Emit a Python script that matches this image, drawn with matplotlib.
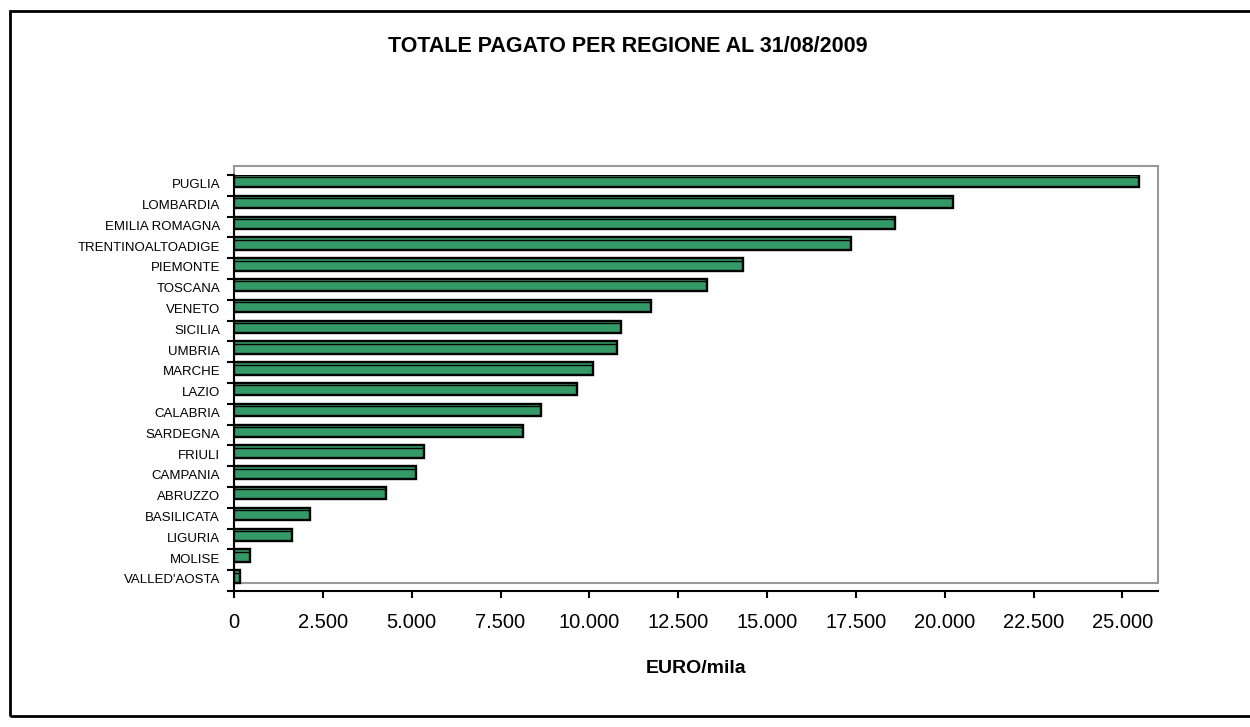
import numpy as np
import matplotlib
matplotlib.use("Agg")
import matplotlib.pyplot as plt
from matplotlib.patches import Rectangle
from matplotlib.ticker import FuncFormatter

plt.rcParams['font.family'] = ['Liberation Sans', 'DejaVu Sans']

# Data (bottom to top, as drawn)
regions = ["VALLED'AOSTA", "MOLISE", "LIGURIA", "BASILICATA", "ABRUZZO",
           "CAMPANIA", "FRIULI", "SARDEGNA", "CALABRIA", "LAZIO",
           "MARCHE", "UMBRIA", "SICILIA", "VENETO", "TOSCANA",
           "PIEMONTE", "TRENTINOALTOADIGE", "EMILIA ROMAGNA", "LOMBARDIA", "PUGLIA"]
paid = [175, 456, 1640, 2147, 4288,
        5134, 5359, 8120, 8628, 9642,
        10093, 10778, 10890, 11736, 13305,
        14328, 17363, 18591, 20237, 25478]
x_ticks = list(range(0, 25001, 2500))

BAR_COLOR = "#339966"
W, H = 1250, 727

fig = plt.figure(figsize=(W / 100, H / 100), dpi=100)

# outer chart border
fig.patches.append(Rectangle((10 / W, 1 - 716 / H), 1.2, (716 - 11) / H,
                             transform=fig.transFigure, fill=False,
                             edgecolor="black", linewidth=2))

# axes: x 234..1158 px, y 175..591 px
ax = fig.add_axes([234 / W, 1 - 591 / H, (1158 - 234) / W, (591 - 175) / H])

y = np.arange(len(regions))
ax.barh(y + 0.2, paid, height=0.6, color=BAR_COLOR, edgecolor="black",
        linewidth=1.7, zorder=3)
# second dark line under bar top (shading artefact in the original)
ax.hlines(y + 0.38, 0, paid, color="black", linewidth=1.0, zorder=4)

ax.set_xlim(0, 26000)
ax.set_ylim(-0.5, len(regions) - 0.5)

# grey plot-area frame, drawn slightly above the axis lines as in the original
ax.add_patch(Rectangle((234 / W, 1 - 583 / H), (1158 - 234) / W, (583 - 166) / H,
                       transform=fig.transFigure, fill=False, edgecolor="#999999",
                       linewidth=1.5, clip_on=False, zorder=1))

for s in ["top", "right"]:
    ax.spines[s].set_visible(False)
for s in ["left", "bottom"]:
    ax.spines[s].set_linewidth(1.5)
    ax.spines[s].set_color("black")

ax.set_yticks(y + 0.08)
ax.set_yticklabels(regions, fontsize=9.5)
ax.set_yticks(np.arange(-0.5, len(regions), 1.0), minor=True)
ax.tick_params(axis="y", which="major", length=0, pad=10)
ax.tick_params(axis="y", which="minor", length=5, width=1.5, direction="out")

ax.set_xticks(x_ticks)
ax.xaxis.set_major_formatter(FuncFormatter(lambda v, p: f"{int(v):,}".replace(",", ".")))
ax.tick_params(axis="x", length=5, width=1.5, direction="out", labelsize=14.5, pad=11)

ax.set_xlabel("EURO/mila", fontsize=14, fontweight="bold", labelpad=20)

fig.text(628 / W, 1 - 47 / H, "TOTALE PAGATO PER REGIONE AL 31/08/2009",
         ha="center", va="center", fontsize=15.5, fontweight="bold")

fig.savefig("out.png", dpi=100)
